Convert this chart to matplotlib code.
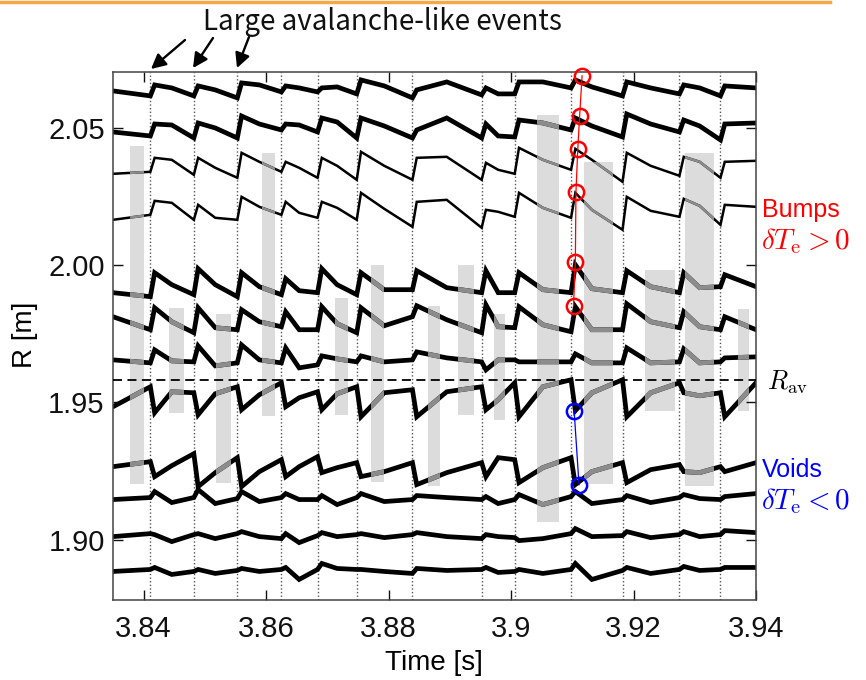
import matplotlib
matplotlib.use("Agg")
import matplotlib.pyplot as plt
from matplotlib.patches import FancyArrowPatch
from matplotlib.lines import Line2D

# ---------------- data ----------------
event_times = [3.8411, 3.8482, 3.8553, 3.8625, 3.8684, 3.8748, 3.8839,
               3.8952, 3.9006, 3.9098, 3.9182, 3.9275, 3.9342]

time_grid = [3.8350,
             3.8411, 3.8418, 3.8446,
             3.8482, 3.8489, 3.8517,
             3.8553, 3.8560, 3.8589,
             3.8625, 3.8632, 3.8654,
             3.8684, 3.8691, 3.8716,
             3.8748, 3.8755, 3.8793,
             3.8839, 3.8846, 3.8895,
             3.8952, 3.8959, 3.8979,
             3.9006, 3.9013, 3.9052,
             3.9098, 3.9105, 3.9132,
             3.9182, 3.9189, 3.9228,
             3.9275, 3.9282, 3.9308,
             3.9342, 3.9349, 3.9400]

# channel radii (m)
channel_R = [2.0646, 2.0500, 2.0384, 2.0220, 1.9929, 1.9794, 1.9655,
             1.9517, 1.9255, 1.9146, 1.9011, 1.8884]

# dTe of each channel (a.u.), one value per time_grid point
dte_ch1 = [-3, -8, 3, 0, -8, 2, -2, -10, 5, 3, -4, 2, 0, -4, 0, 1, -6, 8, 2, -10,
           -2, 6, -7, 0, -6, -6, 6, 6, 0, 8, 1, -8, 6, 0, -6, 3, 0, -8, 2, 0]
dte_ch2 = [-4, -8, 4, 3, -10, 5, 0, -10, 12, 4, -2, 4, 3, -4, 10, 6, -10, 10, 2, -10,
           -2, 10, -10, 4, -8, -9, 8, 5, -2, 10, 2, -9, 14, 4, -4, 8, 2, -12, 4, 5]
dte_ch3 = [-14, -12, 2, 0, -15, 2, -8, -18, 7, -2, -12, -2, -8, -18, 2, -6, -20, 8, -6, -20,
           2, 3, -20, -3, -10, -14, 12, 0, -10, 11, 0, -22, 7, -6, -16, 3, -2, -18, -2, -1]
dte_ch4 = [-15, -10, 4, 2, -15, 0, -13, -15, 8, -2, -10, 3, -8, -13, 3, -3, -15, 12, -4, -22,
           3, 5, -23, -5, -7, -12, 12, -3, -13, 12, -5, -25, 8, -6, -12, 6, -1, -20, 0, -2]
dte_ch5 = [-8, -12, 12, 0, -10, 16, 0, -12, 12, -2, -10, 6, -6, -8, 16, 0, -10, 12, -5, -5,
           14, -3, -8, 14, -8, -8, 12, -5, -8, 20, -4, -8, 14, -2, -8, 12, -3, -2, 10, -2]
dte_ch6 = [5, -8, 14, 0, -11, 14, -6, -8, 12, 0, -5, 10, -8, -8, 15, -2, -11, 14, -4, 5,
           16, 2, -11, 17, -5, -6, 15, -3, -10, 15, -8, -8, 18, 0, -6, 10, -5, -8, 5, -8]
dte_ch7 = [0, -3, 10, -1, -2, 14, -6, -3, 15, 0, -3, 12, -8, -5, 4, 1, -2, 4, -2, 0,
           8, 2, -2, -10, 0, 0, -2, -2, -2, 6, -3, -3, 12, -3, -2, 11, -3, -2, 2, 3]
dte_ch8 = [-9, 11, -15, 6, 5, -17, 4, 11, -12, 3, 15, -9, 0, 6, -12, 4, 11, -19, 5, 8,
           -19, 6, 11, -12, -2, 15, -19, 11, 18, -13, 5, 18, -19, 5, 15, 5, 2, 5, -19, 15]
dte_ch9 = [3, 8, -7, 4, 16, -17, -3, 12, -17, -2, 10, -7, 3, 13, -3, 2, 7, -7, -2, 7,
           -15, -3, 7, -7, 12, 10, -13, 2, 12, -15, -2, 7, -13, 0, 5, -2, -3, 3, -2, 7]
dte_ch10 = [0, 2, 8, -3, 2, 10, -4, 1, 8, -2, 2, 6, 0, 0, 4, -5, 2, 6, -2, 0,
            4, 2, 0, 3, -4, 0, 5, -5, 3, 8, -4, 0, 4, -3, 2, 5, 1, 0, 3, 6]
dte_ch11 = [0, 3, 2, -5, 2, 3, -2, 3, 5, 0, -2, 3, -6, 1, 4, 0, 2, 3, -1, 2,
            4, 0, -2, 2, 0, -1, -4, -2, 3, 8, 0, 1, 5, -1, 2, 5, 0, 2, 6, 4]
dte_ch12 = [0, 2, 4, -3, 0, 2, -2, 1, 3, 0, 2, 4, -8, 2, 8, 3, 2, 2, 0, -2,
            3, 1, 2, 4, -1, 0, 2, -2, 2, 8, -8, 1, 4, -2, 2, 5, 1, 2, 4, 4]

dte_channels = [dte_ch1, dte_ch2, dte_ch3, dte_ch4, dte_ch5, dte_ch6,
                dte_ch7, dte_ch8, dte_ch9, dte_ch10, dte_ch11, dte_ch12]
dte_scale = 0.000364  # m per a.u. in the plot

# shaded intervals
bar_t0 = [3.8378, 3.8442, 3.8518, 3.8594, 3.8712, 3.8771, 3.8864,
          3.8913, 3.8972, 3.9043, 3.9119, 3.9219, 3.9284, 3.9370]
bar_t1 = [3.8400, 3.8466, 3.8542, 3.8615, 3.8733, 3.8793, 3.8884,
          3.8940, 3.8990, 3.9078, 3.9166, 3.9267, 3.9332, 3.9388]
bar_R_low = [1.9201, 1.9463, 1.9208, 1.9452, 1.9453, 1.9209, 1.9194,
             1.9453, 1.9437, 1.9066, 1.9201, 1.9470, 1.9197, 1.9470]
bar_R_high = [2.0434, 1.9845, 1.9823, 2.0410, 1.9882, 1.9999, 1.9850,
              1.9999, 1.9823, 2.0547, 2.0377, 1.9981, 2.0410, 1.9841]

bump_t = [3.9116, 3.9112, 3.9109, 3.9106, 3.9105, 3.9102]
bump_R = [2.0690, 2.0544, 2.0424, 2.0267, 2.0013, 1.9852]
void_t = [3.9103, 3.9111]
void_R = [1.9470, 1.9200]

R_av = 1.958

xticks = [3.84, 3.86, 3.88, 3.90, 3.92, 3.94]
xticklabels = ["3.84", "3.86", "3.88", "3.9", "3.92", "3.94"]
yticks = [1.90, 1.95, 2.00, 2.05]
yticklabels = ["1.90", "1.95", "2.00", "2.05"]

# ---------------- plot ----------------
plt.rcParams["font.family"] = ["Liberation Sans", "DejaVu Sans"]
plt.rcParams["mathtext.fontset"] = "cm"

W, H = 866, 680
fig = plt.figure(figsize=(W / 100, H / 100), dpi=100)
ax = fig.add_axes([113 / W, 1 - 600 / H, (756 - 113) / W, (600 - 72) / H])
ax.set_xlim(3.835, 3.94)
ax.set_ylim(1.878, 2.0704)

widths = [b - a for a, b in zip(bar_t0, bar_t1)]
heights = [b - a for a, b in zip(bar_R_low, bar_R_high)]
bars = ax.bar(bar_t0, heights, width=widths, bottom=bar_R_low, align="edge",
              color="#dcdcdc", edgecolor="none", zorder=1)

for te in event_times:
    ax.axvline(te, color="#555555", lw=1.0, ls=(0, (1, 1.6)), zorder=1.5)

smooth = {2, 3}
for i, (R0, d) in enumerate(zip(channel_R, dte_channels)):
    yv = [R0 + dte_scale * v for v in d]
    lw = 1.8 if i in smooth else 3.4
    ax.plot(time_grid, yv, color="black", lw=lw, zorder=2,
            solid_joinstyle="miter")
    for b in bars:
        ln, = ax.plot(time_grid, yv, color="#8c8c8c", lw=lw, zorder=2.5,
                      solid_joinstyle="miter")
        ln.set_clip_path(b)

ax.axhline(R_av, color="black", lw=1.3, ls=(0, (5, 3)), zorder=4)

ax.plot(bump_t, bump_R, color="red", lw=0.9, zorder=5, clip_on=False)
ax.plot(bump_t, bump_R, ls="none", marker="o", ms=11, mfc="none", mec="red",
        mew=1.8, zorder=6, clip_on=False)
ax.plot(void_t, void_R, color="blue", lw=0.9, zorder=5, clip_on=False)
ax.plot(void_t, void_R, ls="none", marker="o", ms=11, mfc="none", mec="blue",
        mew=1.8, zorder=6, clip_on=False)

ax.set_xticks(xticks)
ax.set_xticklabels(xticklabels)
ax.set_yticks(yticks)
ax.set_yticklabels(yticklabels)
ax.tick_params(direction="in", length=7, width=1, top=True, right=True,
               labelsize=21, colors="#111111")
ax.tick_params(axis="x", pad=11)
ax.tick_params(axis="y", pad=6)
for s in ax.spines.values():
    s.set_color("#444444")
    s.set_linewidth(1.1)

ax.set_xlabel("Time [s]", fontsize=20)
ax.xaxis.set_label_coords((434 - 113) / (756 - 113), (600 - 650) / 528)
ax.set_ylabel("R [m]", fontsize=20)
ax.yaxis.set_label_coords((38 - 113) / (756 - 113), (600 - 335) / 528)

# annotations
fig.text(382 / W, 1 - 22 / H, "Large avalanche-like events", ha="center",
         va="center", fontsize=20, color="#111111",
         family=["Noto Sans CJK KR", "DejaVu Sans"])
arrows = [((185, 40), (151, 69)), ((213, 38), (193, 68)), ((249, 37), (237, 68))]
for (x0, y0), (x1, y1) in arrows:
    fig.add_artist(FancyArrowPatch((x0 / W, 1 - y0 / H), (x1 / W, 1 - y1 / H),
                                   transform=fig.transFigure,
                                   arrowstyle="-|>,head_length=0.55,head_width=0.28",
                                   mutation_scale=16, lw=1.7, color="black",
                                   shrinkA=0, shrinkB=0))

fig.add_artist(Line2D([0, 830 / W], [1 - 1.5 / H, 1 - 1.5 / H],
                      transform=fig.transFigure, color="#f5a849", lw=2.5))

fig.text(762 / W, 1 - 210 / H, "Bumps", color="red", fontsize=18,
         ha="left", va="center")
fig.text(761 / W, 1 - 241 / H, r"$\delta T_{\mathrm{e}} > 0$", color="red",
         fontsize=21, ha="left", va="center")
fig.text(767 / W, 1 - 382 / H, r"$R_{\mathrm{av}}$", color="black",
         fontsize=19, ha="left", va="center")
fig.text(762 / W, 1 - 470 / H, "Voids", color="blue", fontsize=18,
         ha="left", va="center")
fig.text(761 / W, 1 - 501 / H, r"$\delta T_{\mathrm{e}} < 0$", color="blue",
         fontsize=21, ha="left", va="center")

fig.savefig("out.png", dpi=100)
